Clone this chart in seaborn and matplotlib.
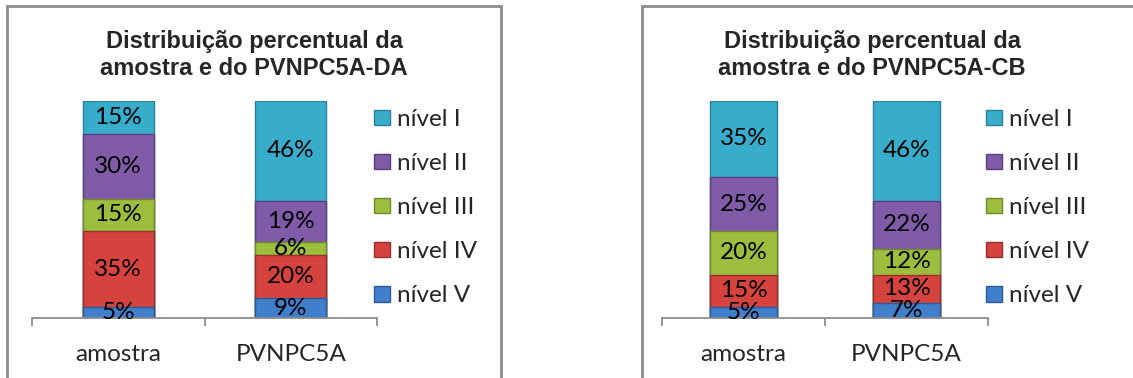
import numpy as np
import pandas as pd
import matplotlib
matplotlib.use("Agg")
import matplotlib.pyplot as plt
import seaborn as sns
from matplotlib.patches import Rectangle, Patch

# data (percent), bottom to top: nivel V .. nivel I
levels = ["nível V", "nível IV", "nível III", "nível II", "nível I"]
groups = ["amostra", "PVNPC5A"]
da_amostra = [5, 35, 15, 30, 15]
da_pvnpc5a = [9, 20, 6, 19, 46]
cb_amostra = [5, 15, 20, 25, 35]
cb_pvnpc5a = [7, 13, 12, 22, 46]
titles = ["Distribuição percentual da\namostra e do PVNPC5A-DA",
          "Distribuição percentual da\namostra e do PVNPC5A-CB"]

colors = {"nível V": "#3f7fcc", "nível IV": "#d6433f", "nível III": "#9cbd3d",
          "nível II": "#7f5ba8", "nível I": "#38adcb"}
edges = {"nível V": "#2b5a94", "nível IV": "#9a2e2b", "nível III": "#6f8a28",
         "nível II": "#5a3f7a", "nível I": "#27809a"}

sns.set_theme(style="white")
plt.rcParams["font.family"] = ["Lato", "DejaVu Sans"]

W, H = 1133, 378
FS = 17.5
fig = plt.figure(figsize=(W / 100, H / 100), dpi=100)


def px_axes(x0, x1, ytop, ybot):
    return fig.add_axes([x0 / W, (H - ybot) / H, (x1 - x0) / W, (ybot - ytop) / H])


def draw_chart(ax, amostra, pvnpc, title, frame, title_x, leg_x):
    # outer frame
    fig.patches.append(Rectangle((frame[0] / W, -0.1), (frame[1] - frame[0]) / W, (H - 6) / H + 0.1,
                                 transform=fig.transFigure, fill=False,
                                 edgecolor="#8c8c8c", linewidth=2, zorder=0))
    df = pd.DataFrame({"grupo": np.repeat(groups, len(levels)),
                       "nivel": levels * 2,
                       "pct": np.array(amostra + pvnpc) / 100})
    df["cum"] = df.groupby("grupo")["pct"].cumsum()
    # draw cumulative bars from top level down so they stack visually
    for lev in levels[::-1]:
        sub = df[df["nivel"] == lev]
        sns.barplot(data=sub, x="grupo", y="cum", order=groups, ax=ax,
                    color=colors[lev], edgecolor=edges[lev], linewidth=1,
                    width=0.41, saturation=1, errorbar=None)
    for _, r in df.iterrows():
        xi = groups.index(r["grupo"])
        ax.text(xi, r["cum"] - r["pct"] / 2, f"{round(r['pct'] * 100)}%",
                ha="center", va="center", fontsize=FS, color="black", zorder=5)
    ax.set_xlim(-0.5, 1.5)
    ax.set_ylim(0, 1)
    for s in ["top", "right", "left"]:
        ax.spines[s].set_visible(False)
    ax.spines["bottom"].set_color("#8c8c8c")
    ax.spines["bottom"].set_linewidth(1.3)
    ax.set_yticks([])
    ax.set_xlabel("")
    ax.set_ylabel("")
    ax.set_xticks([-0.5, 0.5, 1.5], minor=True)
    ax.tick_params(axis="x", which="minor", length=6, width=1.3, color="#8c8c8c",
                   direction="out", bottom=True)
    ax.tick_params(axis="x", which="major", length=0, pad=19, labelsize=FS)
    ax.patch.set_alpha(0)
    fig.text(title_x / W, (H - 55) / H, title, ha="center", va="center",
             fontsize=17, fontweight="bold", family=["Liberation Sans", "DejaVu Sans"],
             linespacing=1.22)
    handles = [Patch(facecolor=colors[l], edgecolor=edges[l], label=l) for l in levels[::-1]]
    ax.legend(handles=handles, loc="upper left", bbox_to_anchor=(leg_x / W, (H - 109) / H),
              bbox_transform=fig.transFigure, frameon=False, fontsize=FS,
              labelspacing=0.95, handlelength=0.65, handleheight=0.6,
              handletextpad=0.3, borderpad=0, borderaxespad=0)


ax1 = px_axes(32, 377, 101, 318)
draw_chart(ax1, da_amostra, da_pvnpc5a, titles[0], (7, 501), 254, 374)
ax2 = px_axes(662, 988, 101, 318)
draw_chart(ax2, cb_amostra, cb_pvnpc5a, titles[1], (642, 1140), 872, 986)

fig.savefig("out.png", dpi=100)
